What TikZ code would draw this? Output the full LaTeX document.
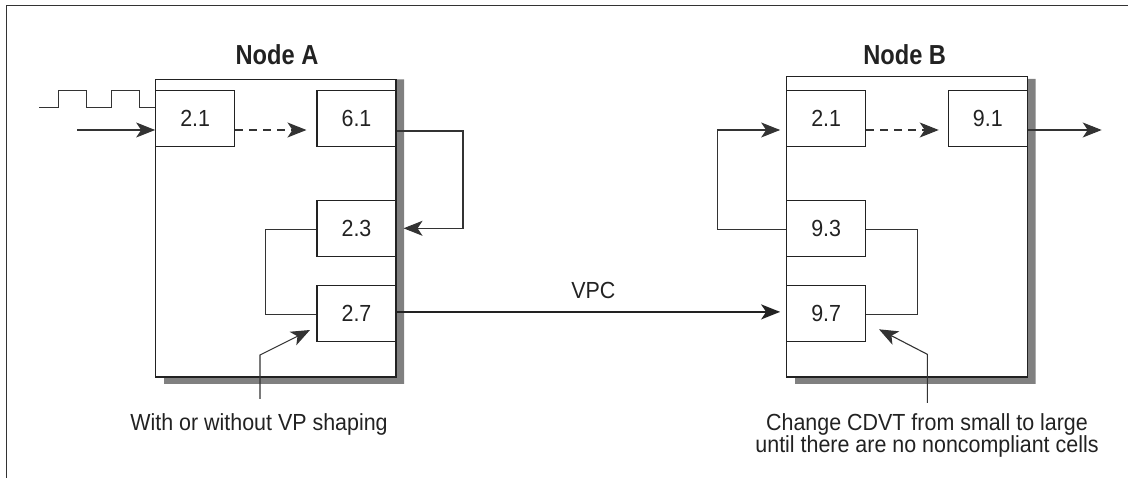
\documentclass[tikz,border=0pt]{standalone}
\usepackage{fontspec}
\setmainfont{Liberation Sans}
\newfontfamily\headfont[FakeStretch=0.86]{Liberation Sans}
\newfontfamily\labelfont[FakeStretch=0.92]{Liberation Sans}
\usetikzlibrary{arrows.meta,calc}
\definecolor{ink}{HTML}{222222}
\definecolor{wirecol}{HTML}{333333}
\definecolor{shadowcol}{HTML}{808080}
\begin{document}
\begin{tikzpicture}[x=1pt,y=-1pt,
  every node/.style={text=ink},
  txt/.style={font=\labelfont\fontsize{23.3}{21.5}\selectfont},
  head/.style={font=\headfont\bfseries\fontsize{27.5}{27.5}\selectfont},
  nodebox/.style={draw=ink,line width=1.1pt,fill=white,inner sep=0pt},
  cellbox/.style={draw=ink,line width=1.1pt,fill=white,minimum width=79pt,minimum height=56pt,inner sep=0pt,txt},
  wire/.style={draw=wirecol,line width=1.1pt},
  arr/.style={wire,-{Stealth[length=19pt,width=15pt,inset=5pt]}},
  link/.style={draw=ink,line width=2.2pt,-{Stealth[length=19pt,width=15pt,inset=5pt]}}]
\useasboundingbox (0,0) rectangle (1128,478);

% frame
\draw[wirecol,line width=1.1pt] (1128,5.5) -- (6.5,5.5) -- (6.5,478);

% drop shadows of the two switches
\fill[shadowcol] (396,79.3) -- (404,79.3) -- (404,384) -- (164,384) -- (164,377) -- (396,377) -- cycle;
\fill[shadowcol] (1027.3,79) -- (1035.7,79) -- (1035.7,384) -- (795,384) -- (795,377) -- (1027.3,377) -- cycle;

% switches
\node[nodebox,minimum width=240.3pt,minimum height=297.7pt] (nA) at (275.85,228.15) {};
\node[nodebox,minimum width=240.6pt,minimum height=300.3pt] (nB) at (907,226.85) {};
\node[head,anchor=base] (tA) at (277,65) {Node A};
\node[head,anchor=base] (tB) at (904.7,65) {Node B};

% ports of node A
\node[cellbox] (a21) at (195.2,118.7) {2.1};
\node[cellbox] (a61) at (356.5,118.7) {6.1};
\node[cellbox] (a23) at (356.5,228.3) {2.3};
\node[cellbox] (a27) at (356.5,313.3) {2.7};

% ports of node B
\node[cellbox] (b21) at (826.2,118.7) {2.1};
\node[cellbox] (b91) at (987.8,118.7) {9.1};
\node[cellbox] (b93) at (826.2,228.3) {9.3};
\node[cellbox] (b97) at (826.2,313.3) {9.7};

% cell stream entering node A
\coordinate (pulse) at (39,107.7);
\draw[wire] (pulse) -- (58.7,107.7) -- (58.7,90.7) -- (86.7,90.7) -- (86.7,107.7)
  -- (111.7,107.7) -- (111.7,90.7) -- (139.3,90.7) -- (139.3,107.7) -- (pulse -| a21.west);
\coordinate (inA) at (77,130);
\draw[arr] (inA) -- (inA -| a21.west);

% paths through node A
\draw[arr,dashed,dash pattern=on 8pt off 6pt,shorten >=10pt] (a21.east |- inA) -- (a61.west |- inA);
\coordinate (turnA) at (463,131);
\draw[arr] (a61.east |- turnA) -- (turnA) |- ([xshift=7pt]a23.east);
\coordinate (loopA) at (265.3,229.3);
\draw[wire] (a23.west |- loopA) -- (loopA) |- ([yshift=-1pt]a27.west);

% virtual path connection
\draw[link,shorten >=6pt] ([yshift=1.4pt]a27.east) -- node[txt,above=9pt,pos=0.505] (vpc) {VPC} ([yshift=1.4pt]b97.west);

% paths through node B
\coordinate (loopB) at (717.3,229.3);
\draw[arr,shorten >=6pt] (b93.west |- loopB) -- (loopB) |- (b21.west |- inA);
\draw[arr,dashed,dash pattern=on 8pt off 6pt,shorten >=9pt] (b21.east |- inA) -- (b91.west |- inA);
\coordinate (outB) at (1101.7,130);
\draw[arr] (b91.east |- outB) -- (outB);
\coordinate (loopB2) at (917.7,229.3);
\draw[wire] (b93.east |- loopB2) -- (loopB2) |- ([yshift=-1pt]b97.east);

% annotations
\coordinate (noteA) at (260,399);
\coordinate (tipA) at (310,330);
\draw[arr] (noteA) -- (260,355) -- (tipA);
\node[txt,anchor=base] (capA) at (259,431) {With or without VP shaping};

\coordinate (noteB) at (927.3,403);
\coordinate (tipB) at (879,329.3);
\draw[arr] (noteB) -- (927.3,354.3) -- (tipB);
\node[txt,align=center,anchor=base] (capB) at (927,453)
  {Change CDVT from small to large\\until there are no noncompliant cells};
\end{tikzpicture}
\end{document}
